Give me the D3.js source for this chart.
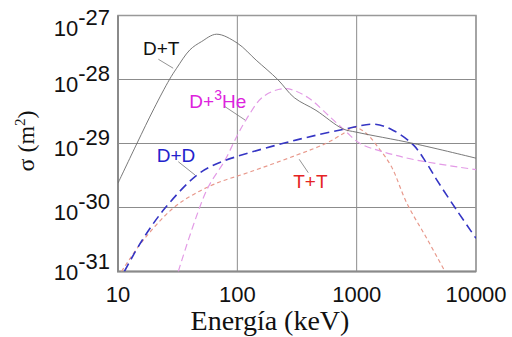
<!DOCTYPE html>
<html>
<head>
<meta charset="utf-8">
<script src="https://cdn.jsdelivr.net/npm/d3@7"></script>
<style>
  html, body { margin: 0; padding: 0; background: #fff; }
  svg { display: block; }
</style>
</head>
<body>
<div id="chart"></div>
<script>
// energy (keV) and cross-section (m^2)
const dtE = [10, 14.4, 20, 27, 31, 40, 50, 67, 100, 144, 218, 300, 456, 764, 1000, 3000, 10000];
const dtS = [2.4e-30, 1.0e-29, 3.5e-29, 1.0e-28, 1.5e-28, 2.9e-28, 3.9e-28, 5.1e-28, 3.7e-28, 2.0e-28, 1.0e-28, 5.2e-29, 3.3e-29, 1.7e-29, 1.5e-29, 1.0e-29, 5.9e-30];

const ddE = [11.3, 15.8, 24.8, 45.7, 65, 100, 315, 773, 1426, 2028, 2985, 3864, 4690, 6887, 10000];
const ddS = [1e-31, 3e-31, 9.8e-31, 3.2e-30, 4.7e-30, 6.3e-30, 1.14e-29, 1.66e-29, 2.0e-29, 1.6e-29, 9.5e-30, 4.9e-30, 2.7e-30, 9.1e-31, 3.3e-31];

const dheE = [32, 55.3, 78.9, 98.9, 120, 165, 251, 380, 598, 824, 1067, 1671, 3184, 10000];
const dheS = [1e-31, 1.86e-30, 5.5e-30, 1.29e-29, 2.45e-29, 5.4e-29, 7.2e-29, 5.4e-29, 2.6e-29, 1.5e-29, 1.0e-29, 7.4e-30, 5.5e-30, 3.9e-30];

const ttE = [10.7, 16.3, 29, 43, 67, 128, 315, 550, 780, 950, 1200, 1500, 1950, 2630, 3864, 5500];
const ttS = [1e-31, 3.1e-31, 9.8e-31, 1.6e-30, 2.4e-30, 3.6e-30, 6.6e-30, 1.0e-29, 1.45e-29, 1.8e-29, 1.45e-29, 8.9e-30, 4.4e-30, 1.17e-30, 3.3e-31, 1e-31];

const xTicks = [10, 100, 1000, 10000];
const yTicks = [1e-27, 1e-28, 1e-29, 1e-30, 1e-31];
const yTickExp = ['-27', '-28', '-29', '-30', '-31'];

const width = 512, height = 337;
const margin = { top: 15.5, right: 36, bottom: 65.5, left: 118 };

const svg = d3.select('#chart').append('svg')
  .attr('width', width)
  .attr('height', height);

const x = d3.scaleLog().domain([10, 10000]).range([margin.left, width - margin.right]);
const y = d3.scaleLog().domain([1e-31, 1e-27]).range([height - margin.bottom, margin.top]);

svg.append('defs').append('clipPath').attr('id', 'plot')
  .append('rect')
  .attr('x', margin.left).attr('y', margin.top)
  .attr('width', width - margin.left - margin.right)
  .attr('height', height - margin.top - margin.bottom);

// grid
svg.append('g')
  .selectAll('line')
  .data(xTicks)
  .join('line')
  .attr('x1', d => x(d)).attr('x2', d => x(d))
  .attr('y1', margin.top).attr('y2', height - margin.bottom)
  .attr('stroke', '#8c8c8c').attr('stroke-width', 1);

svg.append('g')
  .selectAll('line')
  .data(yTicks)
  .join('line')
  .attr('x1', margin.left).attr('x2', width - margin.right)
  .attr('y1', d => y(d)).attr('y2', d => y(d))
  .attr('stroke', '#8c8c8c').attr('stroke-width', 1);

// frame
svg.append('rect')
  .attr('x', margin.left).attr('y', margin.top)
  .attr('width', width - margin.left - margin.right)
  .attr('height', height - margin.top - margin.bottom)
  .attr('fill', 'none').attr('stroke', '#999').attr('stroke-width', 1.5);
svg.append('path')
  .attr('d', `M${margin.left},${margin.top}V${height - margin.bottom}H${width - margin.right}`)
  .attr('fill', 'none').attr('stroke', '#8a8a8a').attr('stroke-width', 2);

// curves
const line = d3.line()
  .x(d => x(d[0]))
  .y(d => y(d[1]))
  .curve(d3.curveCatmullRom.alpha(0.5));

const series = [
  { e: ttE, s: ttS, color: '#e8998c', w: 1.2, dash: '4,3' },
  { e: dheE, s: dheS, color: '#e39be6', w: 1.2, dash: '7,4' },
  { e: ddE, s: ddS, color: '#3535c4', w: 1.6, dash: '9,5' },
  { e: dtE, s: dtS, color: '#6a6a6a', w: 0.9, dash: null },
];

svg.append('g')
  .attr('clip-path', 'url(#plot)')
  .selectAll('path')
  .data(series)
  .join('path')
  .attr('d', d => line(d.e.map((v, i) => [v, d.s[i]])))
  .attr('fill', 'none')
  .attr('stroke', d => d.color)
  .attr('stroke-width', d => d.w)
  .attr('stroke-dasharray', d => d.dash);

// x tick labels
svg.append('g')
  .selectAll('text')
  .data(xTicks)
  .join('text')
  .attr('x', d => x(d))
  .attr('y', height - margin.bottom + 30)
  .attr('text-anchor', 'middle')
  .attr('font-family', 'Liberation Sans, Arial, sans-serif')
  .attr('font-size', 22)
  .attr('fill', '#111')
  .text(d => d);

// y tick labels (10 with superscript exponent)
const yLab = svg.append('g')
  .selectAll('text')
  .data(yTicks)
  .join('text')
  .attr('x', margin.left - 8)
  .attr('y', d => Math.min(Math.max(y(d) + 12, 36), 280))
  .attr('text-anchor', 'end')
  .attr('font-family', 'Liberation Sans, Arial, sans-serif')
  .attr('font-size', 22)
  .attr('fill', '#111');
yLab.append('tspan').text('10');
yLab.append('tspan').attr('dy', -11).text((d, i) => yTickExp[i]);

// axis titles
svg.append('text')
  .attr('x', 270)
  .attr('y', 330)
  .attr('text-anchor', 'middle')
  .attr('font-family', 'Liberation Serif, Times New Roman, serif')
  .attr('font-size', 28)
  .attr('fill', '#111')
  .text('Energía (keV)');

const yTitle = svg.append('text')
  .attr('transform', 'translate(34,141) rotate(-90)')
  .attr('text-anchor', 'middle')
  .attr('font-family', 'Liberation Serif, Times New Roman, serif')
  .attr('font-size', 24)
  .attr('fill', '#111');
yTitle.append('tspan').text('σ (m');
yTitle.append('tspan').attr('dy', -9).attr('font-size', 15).text('2');
yTitle.append('tspan').attr('dy', 9).text(')');

// curve labels and leader lines
const labelText = ['D+T', 'D+D', 'T+T'];
const labelColor = ['#111', '#2222cc', '#e52424'];
const labelE = [16.2, 21.1, 294];
const labelS = [2.4e-28, 5.2e-30, 2.0e-30];

svg.append('g')
  .selectAll('text')
  .data(labelText)
  .join('text')
  .attr('x', (d, i) => x(labelE[i]))
  .attr('y', (d, i) => y(labelS[i]))
  .attr('font-family', 'Liberation Sans, Arial, sans-serif')
  .attr('font-size', 19)
  .attr('fill', (d, i) => labelColor[i])
  .text(d => d);

const he = svg.append('text')
  .attr('x', x(39.6))
  .attr('y', y(3.55e-29))
  .attr('font-family', 'Liberation Sans, Arial, sans-serif')
  .attr('font-size', 19)
  .attr('fill', '#dd22dd');
he.append('tspan').text('D+');
he.append('tspan').attr('dy', -8).attr('font-size', 14).text('3');
he.append('tspan').attr('dy', 8).text('He');

const leaderE0 = [21.8, 78.9, 32, 330];
const leaderS0 = [2.07e-28, 3.76e-29, 5.2e-30, 5.66e-30];
const leaderE1 = [29, 116, 44.2, 393];
const leaderS1 = [1.5e-28, 2.33e-29, 3.22e-30, 3.5e-30];

svg.append('g')
  .selectAll('line')
  .data(leaderE0)
  .join('line')
  .attr('x1', (d, i) => x(leaderE0[i]))
  .attr('y1', (d, i) => y(leaderS0[i]))
  .attr('x2', (d, i) => x(leaderE1[i]))
  .attr('y2', (d, i) => y(leaderS1[i]))
  .attr('stroke', '#777')
  .attr('stroke-width', 0.8);
</script>
</body>
</html>
